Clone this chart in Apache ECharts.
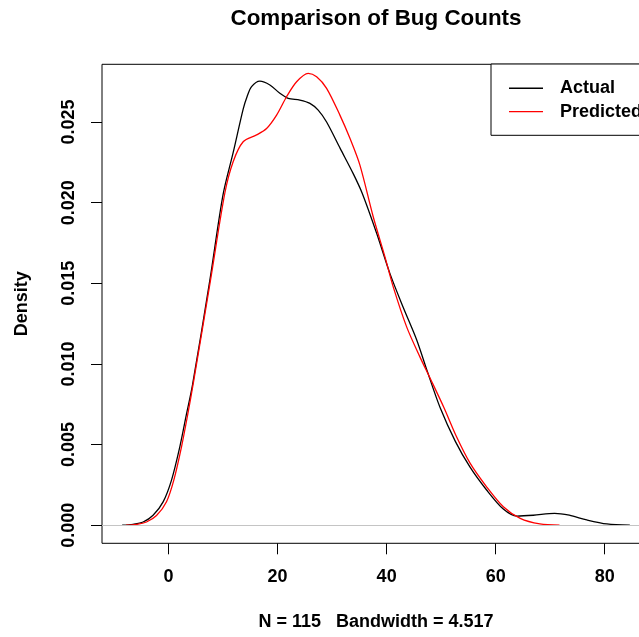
<!DOCTYPE html>
<html>
<head>
<meta charset="utf-8">
<script src="https://cdn.jsdelivr.net/npm/echarts@6/dist/echarts.min.js"></script>
<style>html,body{margin:0;padding:0;background:#fff;}#c{width:639px;height:637px;}</style>
</head>
<body>
<div id="c"></div>
<script>
// Data
const xActual = [-8.5, -6.5, -4.66, -2.83, -0.99, 0.55, 2.07, 3.30, 4.4, 7.58, 10.0, 11.85, 13.69, 14.43, 15.23, 16.75, 18.59, 20.42, 21.94, 24.09, 25.93, 27.45, 28.99, 31.5, 33.87, 35.5, 38.17, 40.61, 43.05, 45.5, 47.5, 49.8, 52.6, 55.3, 58.3, 61.4, 63.9, 66.9, 70.8, 73.5, 76.7, 80.4, 84.6];
const yActual = [0, 0.00006, 0.0002, 0.00062, 0.00145, 0.0028, 0.00486, 0.0069, 0.0087, 0.0152, 0.0205, 0.0231, 0.0258, 0.0266, 0.0272, 0.02754, 0.0273, 0.02678, 0.02647, 0.02636, 0.02616, 0.02574, 0.0250, 0.02335, 0.0218, 0.0206, 0.0181, 0.0156, 0.0135, 0.0115, 0.0095, 0.0073, 0.0052, 0.0036, 0.0022, 0.0010, 0.00057, 0.00062, 0.00074, 0.00062, 0.00033, 0.00008, 0];
const xPredicted = [-7.8, -5.8, -4.04, -2.2, -0.37, 0.97, 2.39, 3.54, 4.64, 7.7, 10.33, 11.85, 13.69, 16.15, 17.98, 19.82, 21.65, 23.49, 25.61, 27.16, 28.99, 31.43, 33.27, 35.1, 37.54, 39.69, 41.21, 43.67, 46.1, 48.0, 50.5, 52.8, 55.3, 58.3, 61.4, 64.5, 68.1, 71.7];
const yPredicted = [0, 0.00005, 0.0002, 0.0006, 0.00146, 0.0028, 0.00488, 0.0069, 0.009, 0.0152, 0.0206, 0.02254, 0.02378, 0.0242, 0.0246, 0.02543, 0.02657, 0.0275, 0.02802, 0.02781, 0.02709, 0.02543, 0.02399, 0.02233, 0.01913, 0.01664, 0.01478, 0.0123, 0.01044, 0.0091, 0.0073, 0.0055, 0.00385, 0.0024, 0.00115, 0.00043, 0.00008, 0];
const xTicks = [0, 20, 40, 60, 80];
const yTicks = [0, 0.005, 0.010, 0.015, 0.020, 0.025];
const seriesNames = ['Actual', 'Predicted'];
const titleText = 'Comparison of Bug Counts';
const xLabel = 'N = 115   Bandwidth = 4.517';
const yLabel = 'Density';

const FONT = 'Liberation Sans';
const pairs = (xs, ys) => xs.map((x, i) => [x, ys[i]]);

const chart = echarts.init(document.getElementById('c'), null, {renderer: 'canvas'});
chart.setOption({
  animation: false,
  backgroundColor: '#fff',
  title: {
    text: titleText, left: 371, top: 3, textAlign: 'center',
    textStyle: {fontFamily: FONT, fontWeight: 'bold', fontSize: 22.4, color: '#000'}
  },
  grid: {
    left: 102, top: 64.3, width: 548, height: 479,
    show: true, borderColor: '#000', borderWidth: 1, backgroundColor: 'transparent',
    containLabel: false, outerBoundsMode: 'none'
  },
  legend: {
    orient: 'vertical', left: 491, top: 64,
    data: seriesNames,
    icon: 'rect', itemWidth: 34, itemHeight: 1.4,
    borderColor: '#000', borderWidth: 1, borderRadius: 0,
    backgroundColor: '#fff',
    padding: [12.5, 80, 12, 18], itemGap: 0,
    selectedMode: false,
    textStyle: {fontFamily: FONT, fontWeight: 'bold', fontSize: 18, color: '#000', lineHeight: 23.4, padding: [0, 0, 0, 12]}
  },
  xAxis: {
    type: 'value', min: -12.2, max: 88.3,
    name: xLabel, nameLocation: 'middle', nameGap: 70,
    nameTextStyle: {fontFamily: FONT, fontWeight: 'bold', fontSize: 18, color: '#000'},
    axisLine: {show: false, onZero: false},
    splitLine: {show: false},
    axisTick: {show: true, length: 11, customValues: xTicks, lineStyle: {color: '#000', width: 1}},
    axisLabel: {customValues: xTicks, margin: 25, fontFamily: FONT, fontWeight: 'bold', fontSize: 18, color: '#000'}
  },
  yAxis: {
    type: 'value', min: -0.00112, max: 0.02858,
    name: yLabel, nameLocation: 'middle', nameGap: 71,
    nameTextStyle: {fontFamily: FONT, fontWeight: 'bold', fontSize: 18, color: '#000'},
    axisLine: {show: false, onZero: false},
    splitLine: {show: false},
    axisTick: {show: true, length: 11, customValues: yTicks, lineStyle: {color: '#000', width: 1}},
    axisLabel: {customValues: yTicks, rotate: 90, margin: 24, fontFamily: FONT, fontWeight: 'bold', fontSize: 18, color: '#000',
      formatter: v => v.toFixed(3)}
  },
  series: [
    {
      name: seriesNames[0], type: 'line', data: pairs(xActual, yActual),
      smooth: 0.3, showSymbol: false, symbol: 'none',
      color: '#000', lineStyle: {color: '#000', width: 1.3},
      emphasis: {disabled: true}, z: 3,
      markLine: {
        silent: true, symbol: 'none', label: {show: false}, animation: false,
        lineStyle: {color: '#c4c4c4', width: 1.2, type: 'solid'},
        emphasis: {disabled: true},
        data: [{yAxis: 0}]
      }
    },
    {
      name: seriesNames[1], type: 'line', data: pairs(xPredicted, yPredicted),
      smooth: 0.3, showSymbol: false, symbol: 'none',
      color: '#ff0000', lineStyle: {color: '#ff0000', width: 1.3},
      emphasis: {disabled: true}, z: 4
    }
  ]
});
</script>
</body>
</html>
